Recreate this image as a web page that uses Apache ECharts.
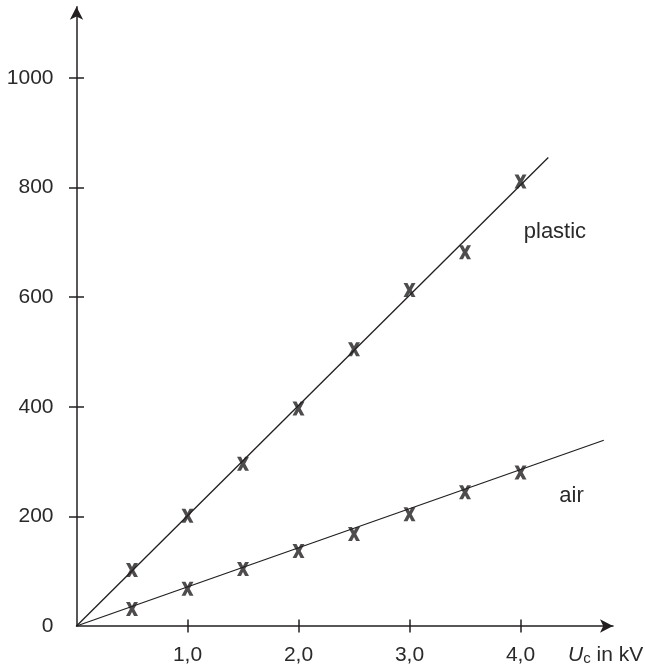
<!DOCTYPE html>
<html>
<head>
<meta charset="utf-8">
<script src="https://cdn.jsdelivr.net/npm/echarts@6/dist/echarts.min.js"></script>
<style>
html,body{margin:0;padding:0;background:#fff;}
#chart{width:645px;height:667px;}
</style>
</head>
<body>
<div id="chart"></div>
<script>
// Data
var voltages = [0.5, 1.0, 1.5, 2.0, 2.5, 3.0, 3.5, 4.0];
var plasticValues = [102, 201, 296, 397, 505, 613, 682, 811];
var airValues = [31, 68, 104, 137, 168, 204, 244, 280];
var plasticFit = [[0, 0], [4.25, 855]];
var airFit = [[0, 0], [4.75, 339]];
var xTicks = [1, 2, 3, 4];
var yTickLabels = [0, 200, 400, 600, 800, 1000];
var yTicks = [200, 400, 600, 800, 1000];

var ink = '#231f20';
var textCol = '#2a2a2a';
var fontFam = '"Liberation Sans", Arial, Helvetica, sans-serif';
var xMark = 'path://M0,0 L33,0 L50,28 L67,0 L100,0 L68,50 L100,100 L67,100 L50,72 L33,100 L0,100 L32,50 Z';

function pairs(xs, ys) { return xs.map(function (x, i) { return [x, ys[i]]; }); }

var chart = echarts.init(document.getElementById('chart'), null, {renderer: 'canvas'});
var xCommon = {type: 'value', min: 0, max: 4.833, splitLine: {show: false}};
var yCommon = {type: 'value', min: 0, max: 1130, splitLine: {show: false}};

chart.setOption({
  animation: false,
  backgroundColor: '#fff',
  grid: {left: 76.5, top: 6.8, width: 536.5, height: 619.2, containLabel: false},
  xAxis: [
    Object.assign({}, xCommon, {
      position: 'bottom',
      axisLine: {show: true, onZero: false, lineStyle: {color: ink, width: 1.5},
        symbol: ['none', 'arrow'], symbolSize: [10, 13]},
      axisTick: {show: true, inside: false, length: 6.5, customValues: xTicks, lineStyle: {color: ink, width: 1.5}},
      axisLabel: {show: true, customValues: xTicks, margin: 19, color: textCol, fontSize: 21, fontFamily: fontFam,
        formatter: function (v) { return v.toFixed(1).replace('.', ','); }}
    }),
    Object.assign({}, xCommon, {
      position: 'bottom',
      axisLine: {show: false},
      axisTick: {show: true, inside: true, length: 6.5, customValues: xTicks, lineStyle: {color: ink, width: 1.5}},
      axisLabel: {show: false}
    })
  ],
  yAxis: [
    Object.assign({}, yCommon, {
      position: 'left',
      axisLine: {show: true, onZero: false, lineStyle: {color: ink, width: 1.5},
        symbol: ['none', 'arrow'], symbolSize: [10, 13]},
      axisTick: {show: true, inside: false, length: 7.5, customValues: yTicks, lineStyle: {color: ink, width: 1.5}},
      axisLabel: {show: true, customValues: yTickLabels, margin: 23, color: textCol, fontSize: 21, fontFamily: fontFam,
        formatter: function (v) { return String(v); }}
    }),
    Object.assign({}, yCommon, {
      position: 'left',
      axisLine: {show: false},
      axisTick: {show: true, inside: true, length: 7.5, customValues: yTicks, lineStyle: {color: ink, width: 1.5}},
      axisLabel: {show: false}
    })
  ],
  graphic: [{
    type: 'text', left: 568, top: 645,
    style: {
      text: '{u|U}{c|c}{n| in kV}',
      rich: {
        u: {fontSize: 21, fontStyle: 'italic', fontFamily: fontFam, fill: textCol},
        c: {fontSize: 15, fontFamily: fontFam, fill: textCol, verticalAlign: 'bottom'},
        n: {fontSize: 21, fontFamily: fontFam, fill: textCol}
      }
    }
  }],
  series: [
    {
      name: 'plastic fit', type: 'line', xAxisIndex: 0, yAxisIndex: 0, data: plasticFit,
      showSymbol: false, lineStyle: {color: ink, width: 1.3}, silent: true,
      markPoint: {symbol: 'circle', symbolSize: 0, data: [{coord: [4.31, 719], label: {show: true, formatter: 'plastic', color: textCol, fontSize: 22, fontFamily: fontFam}}]}
    },
    {
      name: 'air fit', type: 'line', xAxisIndex: 0, yAxisIndex: 0, data: airFit,
      showSymbol: false, lineStyle: {color: ink, width: 1.3}, silent: true,
      markPoint: {symbol: 'circle', symbolSize: 0, data: [{coord: [4.46, 237], label: {show: true, formatter: 'air', color: textCol, fontSize: 22, fontFamily: fontFam}}]}
    },
    {
      name: 'plastic', type: 'scatter', xAxisIndex: 0, yAxisIndex: 0, data: pairs(voltages, plasticValues),
      symbol: xMark, symbolSize: [12, 14], itemStyle: {color: ink}
    },
    {
      name: 'air', type: 'scatter', xAxisIndex: 0, yAxisIndex: 0, data: pairs(voltages, airValues),
      symbol: xMark, symbolSize: [12, 14], itemStyle: {color: ink}
    }
  ]
});
</script>
</body>
</html>
